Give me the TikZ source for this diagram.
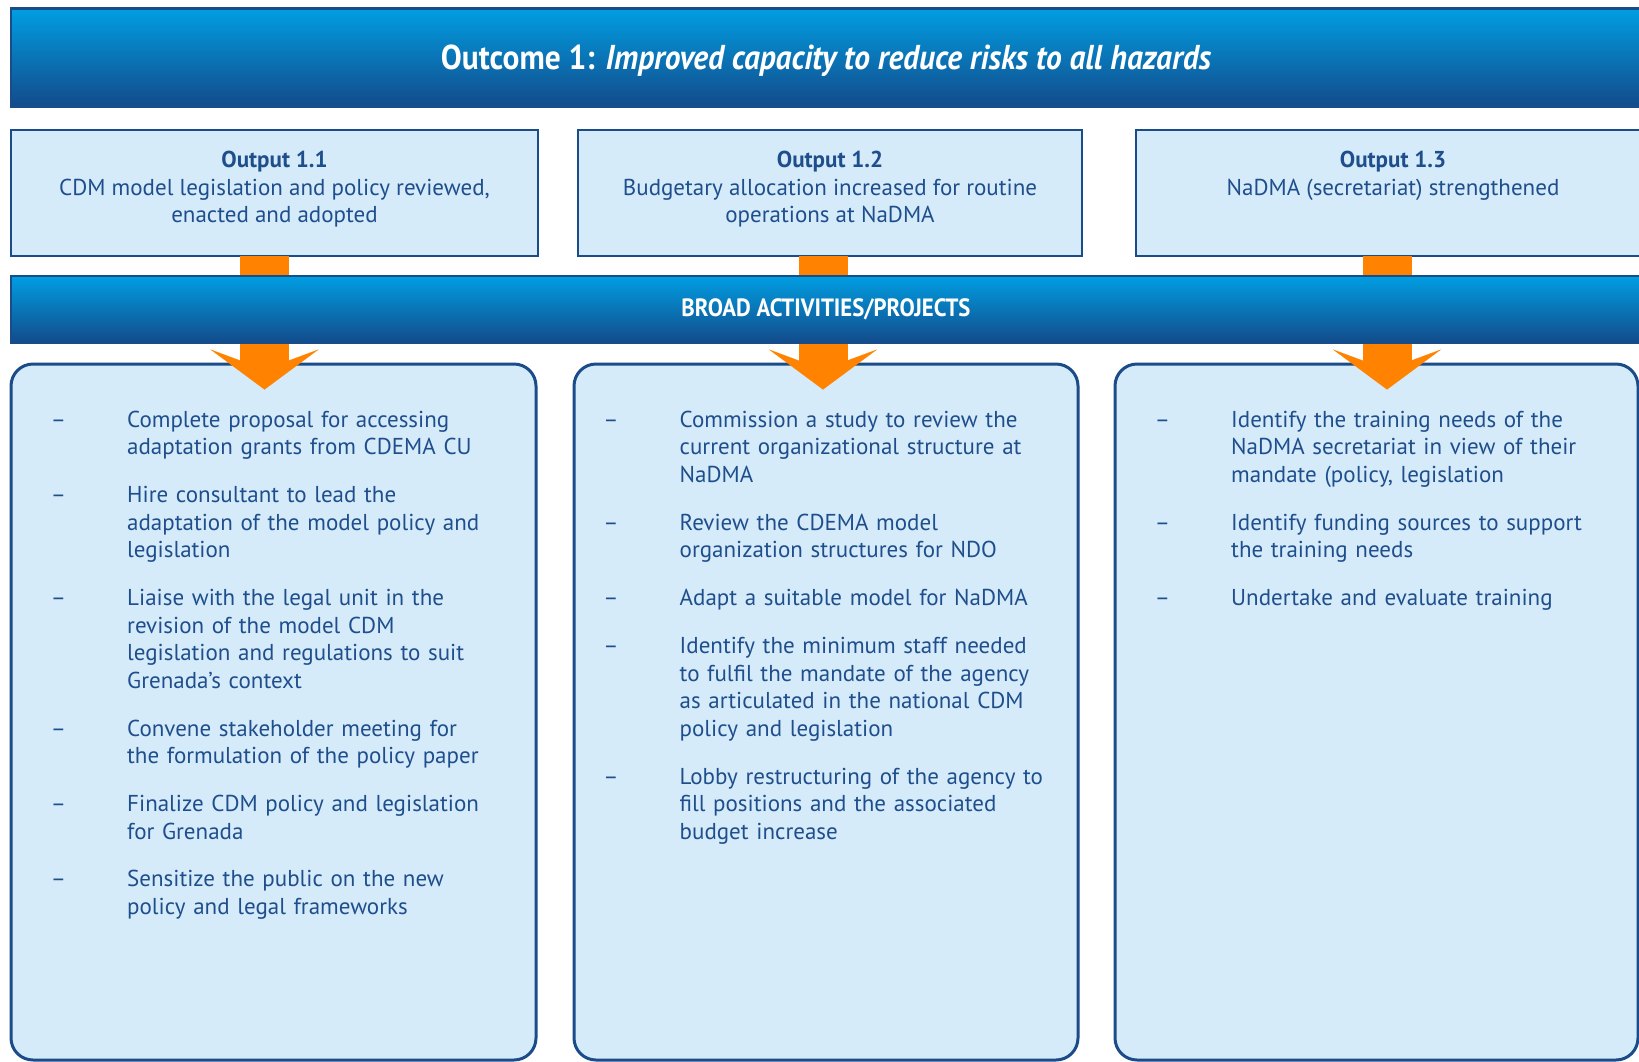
\documentclass[tikz,border=0pt]{standalone}
\usepackage{fontspec}
\setmainfont{PT Sans}
\newfontfamily\condfont[FakeStretch=0.91]{PT Sans}
\usepackage{tikz}
\usetikzlibrary{positioning}
\usetikzlibrary{arrows.meta}
\definecolor{boxfill}{HTML}{D5EBFA}
\definecolor{framec}{HTML}{1B4C8A}
\definecolor{txtblue}{HTML}{1F4E8C}
\definecolor{flowc}{HTML}{FF8300}
\definecolor{bantop}{HTML}{009EE2}
\definecolor{banbot}{HTML}{134B8A}
\newcommand\titlefont{\fontsize{34.5}{40}\selectfont\condfont\bfseries}
\newcommand\broadfont{\fontsize{25}{30}\selectfont\condfont\bfseries}
\newcommand\itemfont{\fontsize{23}{27.5}\selectfont}
\tikzstyle{banner}=[rectangle,draw=framec,line width=2.5pt,top color=bantop,
                bottom color=banbot,text=white,inner sep=0pt]
\tikzstyle{outbox}=[rectangle,draw=framec,line width=2.5pt,fill=boxfill,
                minimum height=126pt]
\tikzstyle{actbox}=[rectangle,rounded corners=22pt,draw=framec,line width=3pt,
                fill=boxfill,minimum height=696pt]
\tikzstyle{outtext}=[anchor=north,align=center,inner sep=0pt,font=\itemfont,
                text=txtblue,execute at begin node=\strut,execute at end node=\strut]
\tikzstyle{dashmark}=[anchor=north,xshift=-68.5pt,inner sep=0pt,font=\itemfont,
                text=txtblue]
\tikzstyle{item}=[anchor=north west,align=left,text width=400pt,inner sep=0pt,
                font=\itemfont,text=txtblue,execute at begin node=\strut,
                execute at end node=\strut,
                label={[dashmark]north west:\strut\textendash}]
\tikzstyle{flow}=[draw=flowc,line width=49pt,
                -{Stealth[length=40pt,width=108pt,inset=20pt,line width=0.1pt]}]
\tikzset{under/.style={below=20pt of #1.south west,anchor=north west}}

\begin{document}
\begin{tikzpicture}[x=1pt,y=-1pt]
\useasboundingbox (0,0) rectangle (1639,1061);
% outcome
\node[banner,minimum width=1630pt,minimum height=98pt,text depth=0pt,
  font=\titlefont] (outcome) at (826,57.5)
  {Outcome 1: \itshape Improved capacity to reduce risks to all hazards};
% outputs
\node[outbox,minimum width=527pt] (out1) at (274.5,193) {};
\node[outbox,minimum width=504pt] (out2) at (830,193) {};
\node[outbox,minimum width=514pt] (out3) at (1393,193) {};
\node[outtext,below=22.5pt of out1.north] (out1txt) {\textbf{Output 1.1}\\
  CDM model legislation and policy reviewed,\\ enacted and adopted};
\node[outtext,below=22.5pt of out2.north] (out2txt) {\textbf{Output 1.2}\\
  Budgetary allocation increased for routine\\ operations at NaDMA};
\node[outtext,below=22.5pt of out3.north] (out3txt) {\textbf{Output 1.3}\\
  NaDMA (secretariat) strengthened};
% activity boxes
\node[actbox,minimum width=525pt] (box1) at (273.5,712) {};
\node[actbox,minimum width=504pt] (box2) at (826,712) {};
\node[actbox,minimum width=523pt] (box3) at (1376.5,712) {};
% orange arrows
\foreach \n/\dx in {1/-10,2/-7,3/-6}{
  \coordinate (s\n) at ([xshift=\dx pt,yshift=1pt]out\n.south);
  \coordinate (t\n) at (s\n |- box\n.north);
  \draw[flow] (s\n) -- ([yshift=-27pt]t\n);
}
\node[banner,minimum width=1630pt,minimum height=67pt,font=\broadfont] (broad)
  at (826,309.5) {BROAD ACTIVITIES/PROJECTS};
% activities 1.1
\node[item] (a11) at (127,408) {Complete proposal for accessing\\
  adaptation grants from CDEMA CU};
\node[item,under=a11] (a12) {Hire consultant to lead the\\
  adaptation of the model policy and\\ legislation};
\node[item,under=a12] (a13) {Liaise with the legal unit in the\\
  revision of the model CDM\\ legislation and regulations to suit\\ Grenada's context};
\node[item,under=a13] (a14) {Convene stakeholder meeting for\\
  the formulation of the policy paper};
\node[item,under=a14] (a15) {Finalize CDM policy and legislation\\ for Grenada};
\node[item,under=a15] (a16) {Sensitize the public on the new\\
  policy and legal frameworks};
% activities 1.2
\node[item] (a21) at (679.5,408) {Commission a study to review the\\
  current organizational structure at\\ NaDMA};
\node[item,under=a21] (a22) {Review the CDEMA model\\
  organization structures for NDO};
\node[item,under=a22] (a23) {Adapt a suitable model for NaDMA};
\node[item,under=a23] (a24) {Identify the minimum staff needed\\
  to fulfil the mandate of the agency\\ as articulated in the national CDM\\
  policy and legislation};
\node[item,under=a24] (a25) {Lobby restructuring of the agency to\\
  fill positions and the associated\\ budget increase};
% activities 1.3
\node[item] (a31) at (1231,408) {Identify the training needs of the\\
  NaDMA secretariat in view of their\\ mandate (policy, legislation};
\node[item,under=a31] (a32) {Identify funding sources to support\\
  the training needs};
\node[item,under=a32] (a33) {Undertake and evaluate training};
\end{tikzpicture}
\end{document}
